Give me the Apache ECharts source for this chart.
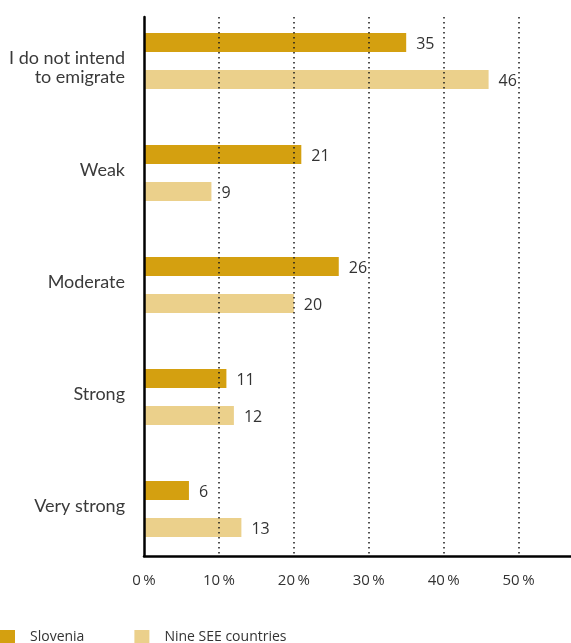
<!DOCTYPE html>
<html>
<head>
<meta charset="utf-8">
<script src="https://cdn.jsdelivr.net/npm/echarts@6/dist/echarts.min.js"></script>
<style>
  html, body { margin: 0; padding: 0; background: #fff; }
  #chart { width: 571px; height: 643px; }
</style>
</head>
<body>
<div id="chart"></div>
<script>
// Strength of intention to emigrate, share of respondents (%)
const categories = ['I do not intend\nto emigrate', 'Weak', 'Moderate', 'Strong', 'Very strong'];
const slovenia = [35, 21, 26, 11, 6];
const nineSEE = [46, 9, 20, 12, 13];
const seriesNames = ['Slovenia', 'Nine SEE countries'];
const tickStep = 10;
const axisMax = 57;

const FONT = '"Open Sans", "Noto Sans", sans-serif';
const CAT_FONT = 'Lato, "Open Sans", sans-serif';
const TEXT = '#333333';
const DARK_GOLD = '#D4A010';
const LIGHT_GOLD = '#EBD08B';

const chart = echarts.init(document.getElementById('chart'), null, { renderer: 'canvas' });

const valueLabel = {
  show: true,
  position: 'right',
  distance: 10,
  offset: [0, 1.5],
  fontFamily: FONT,
  fontSize: 16,
  color: TEXT
};

const catText = { fontFamily: CAT_FONT, fontSize: 18, color: '#3a3a3a', align: 'right' };

chart.setOption({
  animation: false,
  textStyle: { fontFamily: FONT },
  legend: {
    left: 0,
    top: 630,
    padding: 0,
    itemWidth: 15,
    itemHeight: 15,
    itemGap: 50,
    icon: 'rect',
    textStyle: { fontFamily: FONT, fontSize: 14, color: TEXT, padding: [0, 0, 0, 10] },
    data: seriesNames
  },
  grid: [
    // frame with axis lines and dotted guides
    { left: 144, right: 0, top: 17, bottom: 87 },
    // plotting band for the bars
    { left: 144, right: 0, top: 5, bottom: 78 }
  ],
  xAxis: [
    {
      gridIndex: 0,
      type: 'value',
      min: 0,
      max: axisMax,
      interval: tickStep,
      z: 5,
      axisLine: { show: true, lineStyle: { color: '#000', width: 2.5 } },
      axisTick: { show: false },
      axisLabel: {
        showMaxLabel: false,
        margin: 17,
        fontFamily: FONT,
        fontSize: 15,
        color: TEXT,
        formatter: v => (v % tickStep === 0 ? v + '\u2009%' : '')
      },
      splitLine: {
        show: true,
        showMinLine: false,
        showMaxLine: false,
        lineStyle: { color: '#1a1a1a', width: 1.5, type: [1.5, 3.5] }
      }
    },
    {
      gridIndex: 1,
      type: 'value',
      min: 0,
      max: axisMax,
      interval: tickStep,
      show: false
    }
  ],
  yAxis: [
    {
      gridIndex: 0,
      type: 'category',
      data: categories,
      inverse: true,
      z: 5,
      axisLine: { show: true, lineStyle: { color: '#000', width: 2.5 } },
      axisTick: { show: false },
      axisLabel: { show: false },
      splitLine: { show: false }
    },
    {
      gridIndex: 1,
      type: 'category',
      data: categories,
      inverse: true,
      axisLine: { show: false },
      axisTick: { show: false },
      splitLine: { show: false },
      axisLabel: {
        margin: 19,
        align: 'right',
        // one-line names sit a little above the bar pair, two-line names a little below
        formatter: v => (v.indexOf('\n') >= 0 ? '{m|' + v + '}' : '{s|' + v + '}'),
        rich: {
          s: Object.assign({ padding: [0, 0, 6, 0] }, catText),
          m: Object.assign({ lineHeight: 19, padding: [14, 0, 0, 0] }, catText)
        }
      }
    }
  ],
  series: [
    {
      name: seriesNames[0],
      type: 'bar',
      xAxisIndex: 1,
      yAxisIndex: 1,
      data: slovenia,
      barWidth: 19,
      barGap: '95%',
      itemStyle: { color: DARK_GOLD },
      label: valueLabel
    },
    {
      name: seriesNames[1],
      type: 'bar',
      xAxisIndex: 1,
      yAxisIndex: 1,
      data: nineSEE,
      barWidth: 19,
      barGap: '95%',
      itemStyle: { color: LIGHT_GOLD },
      label: valueLabel
    }
  ]
});
</script>
</body>
</html>
